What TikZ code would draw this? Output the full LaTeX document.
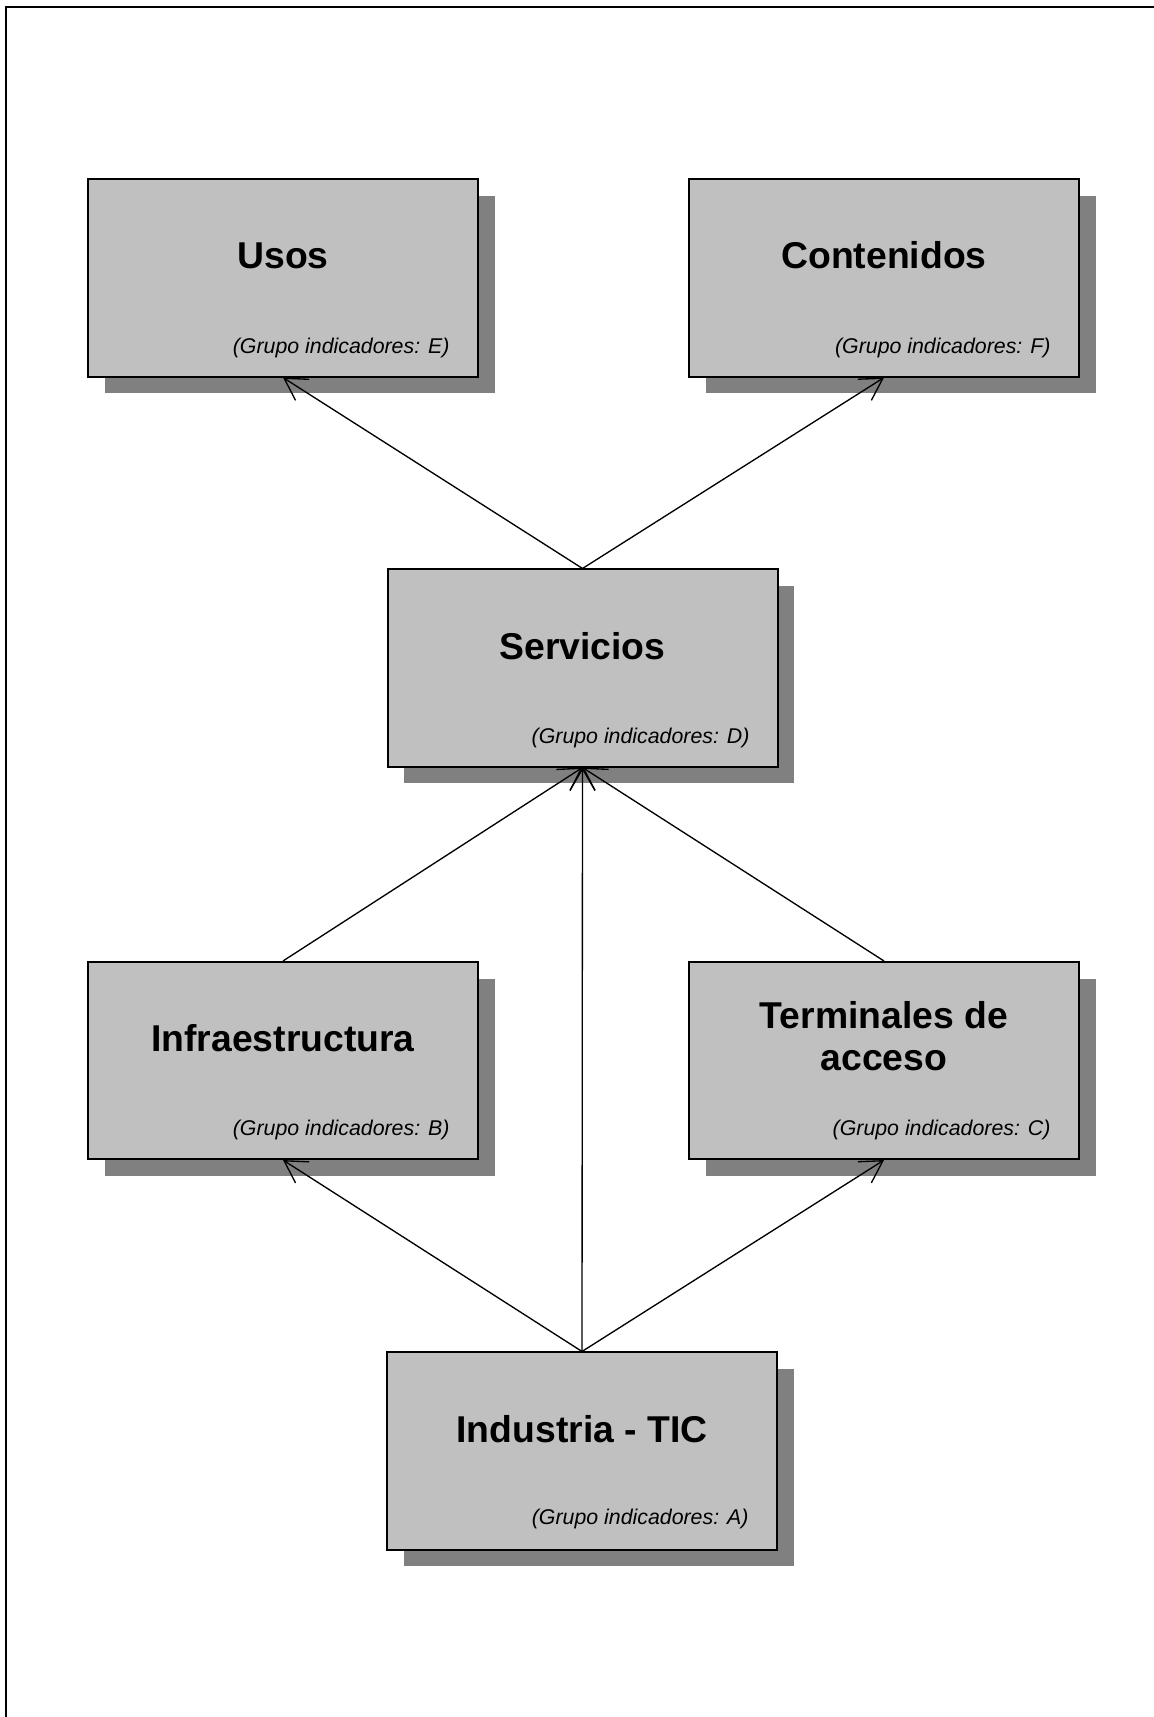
\documentclass[tikz,border=0pt]{standalone}
\usepackage{fontspec}
\setmainfont{Liberation Sans}
\usetikzlibrary{arrows.meta,shadows}
\definecolor{boxgray}{RGB}{192,192,192}
\definecolor{shadowgray}{RGB}{128,128,128}
\begin{document}
\begin{tikzpicture}[x=0.375pt,y=-0.375pt,
  box/.style={draw=black,line width=0.75pt,fill=boxgray,minimum width=146.25pt,minimum height=73.9pt,inner sep=0pt,
    drop shadow={shadow xshift=6.3pt,shadow yshift=-6.3pt,fill=shadowgray,opacity=1}},
  title/.style={font=\fontsize{14}{15.4}\selectfont\bfseries,align=center,inner sep=0pt,anchor=base},
  group/.style={font=\fontsize{8}{9.6}\selectfont\itshape,inner sep=0pt,anchor=base east},
  conn/.style={line width=0.5pt,-{Straight Barb[length=8.1pt,width=9.4pt]}}]
\useasboundingbox (0,0) rectangle (1153,1717);
\draw[line width=0.6pt] (6,1730) -- (6,7) -- (1160,7);
% boxes
\node[box] (usos) at (283,278) {};
\node[box] (cont) at (884,278) {};
\node[box] (serv) at (582.5,668) {};
\node[box] (infra) at (283,1060.5) {};
\node[box] (term) at (884,1060.5) {};
\node[box] (ind) at (582,1451) {};
% titles
\node[title] (usosT) at (283,268) {Usos};
\node[title] (contT) at (884,268) {Contenidos};
\node[title] (servT) at (582.5,659) {Servicios};
\node[title] (infraT) at (283,1051) {Infraestructura};
\node[title] (termT) at (884,1070) {Terminales de\\acceso};
\node[title] (indT) at (582,1442) {Industria - TIC};
% group labels
\node[group] (usosG) at (450,353) {(Grupo indicadores: E)};
\node[group] (contG) at (1051,353) {(Grupo indicadores: F)};
\node[group] (servG) at (750,743) {(Grupo indicadores: D)};
\node[group] (infraG) at (450,1135) {(Grupo indicadores: B)};
\node[group] (termG) at (1051,1135) {(Grupo indicadores: C)};
\node[group] (indG) at (749,1524) {(Grupo indicadores: A)};
% connectors
\draw[conn] (serv.north) -- (usos.south);
\draw[conn] (serv.north) -- (cont.south);
\draw[conn] (infra.north) -- (serv.south);
\draw[conn] (term.north) -- (serv.south);
\draw[conn] (ind.north) -- (serv.south);
\draw[conn] (ind.north) -- (infra.south);
\draw[conn] (ind.north) -- (term.south);
\end{tikzpicture}
\end{document}
